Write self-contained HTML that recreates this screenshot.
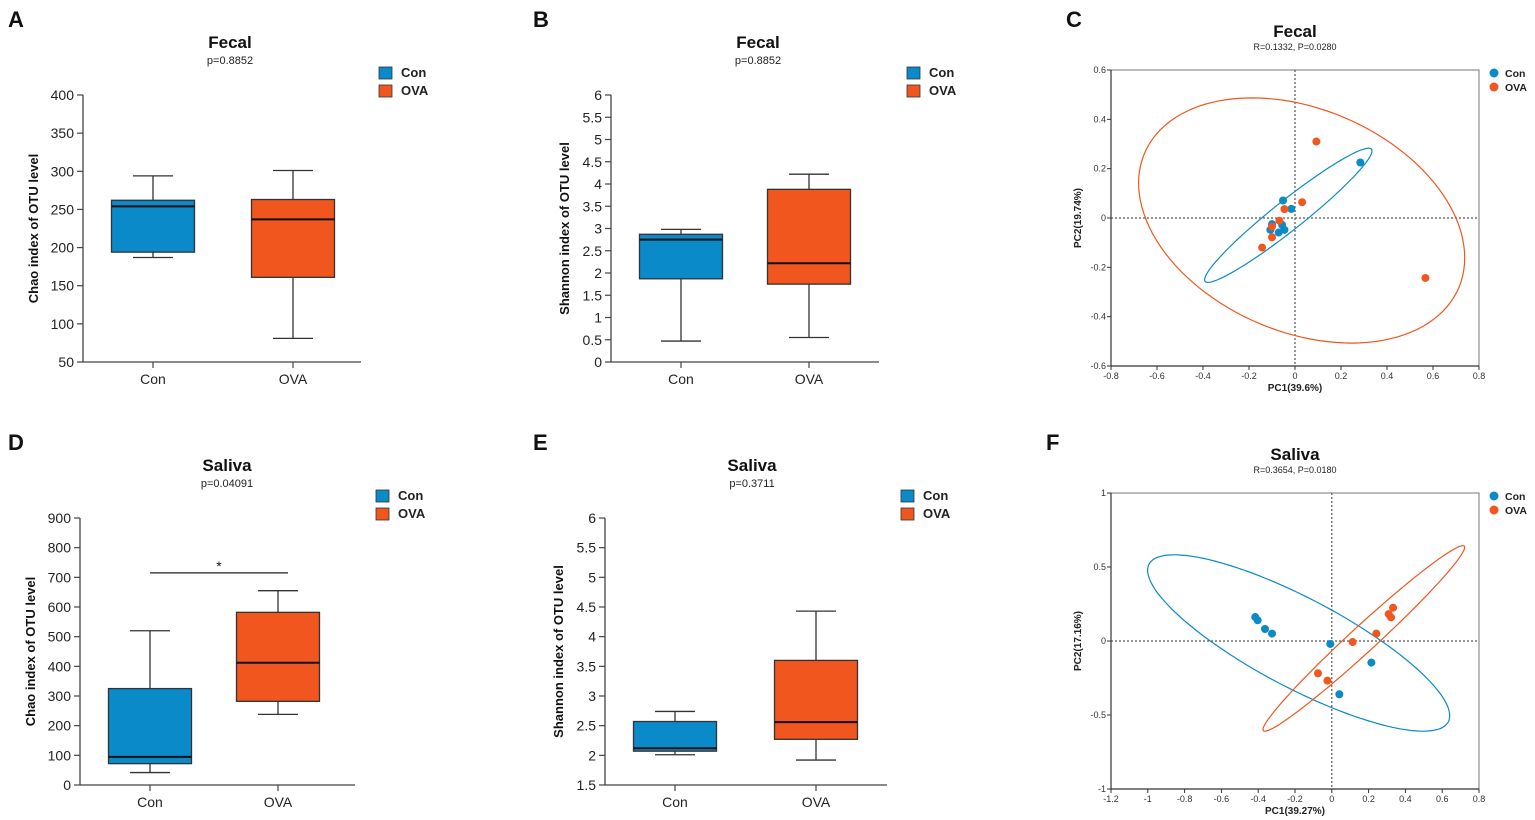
<!DOCTYPE html>
<html><head><meta charset="utf-8"><style>
html,body{margin:0;padding:0;background:#fff;}
svg{display:block;font-family:"Liberation Sans",Arial,sans-serif;}
</style></head><body>
<svg id="fig" width="1535" height="820" viewBox="0 0 1535 820" xmlns="http://www.w3.org/2000/svg"></svg>
<script>
// ---- Box plot data: [min, q1, median, q3, max] ----
const groups = ["Con", "OVA"];
const fecalChaoCon = [187, 194, 254, 262, 294];
const fecalChaoOVA = [81, 161, 237, 263, 301];
const fecalShannonCon = [0.47, 1.87, 2.75, 2.87, 2.98];
const fecalShannonOVA = [0.55, 1.75, 2.22, 3.88, 4.22];
const salivaChaoCon = [42, 72, 95, 325, 520];
const salivaChaoOVA = [238, 282, 412, 582, 655];
const salivaShannonCon = [2.01, 2.07, 2.12, 2.57, 2.74];
const salivaShannonOVA = [1.92, 2.27, 2.56, 3.6, 4.43];
const ticksA = [50,100,150,200,250,300,350,400];
const ticksB = [0,0.5,1,1.5,2,2.5,3,3.5,4,4.5,5,5.5,6];
const ticksD = [0,100,200,300,400,500,600,700,800,900];
const ticksE = [1.5,2,2.5,3,3.5,4,4.5,5,5.5,6];
// ---- PCoA data ----
const fecalConX = [0.284,-0.052,-0.016,-0.1,-0.107,-0.071,-0.046,-0.056];
const fecalConY = [0.225,0.071,0.037,-0.025,-0.048,-0.059,-0.048,-0.028];
const fecalOVAX = [0.093,0.031,-0.046,-0.068,-0.1,-0.1,-0.143,0.567];
const fecalOVAY = [0.31,0.064,0.036,-0.011,-0.035,-0.078,-0.12,-0.243];
const salivaConX = [-0.416,-0.403,-0.363,-0.325,-0.008,0.215,0.041];
const salivaConY = [0.162,0.14,0.081,0.05,-0.02,-0.146,-0.36];
const salivaOVAX = [0.333,0.309,0.322,0.242,0.113,-0.075,-0.024];
const salivaOVAY = [0.225,0.182,0.16,0.05,-0.007,-0.218,-0.268];
// ellipse params: [cx, cy, A, B, cosPhi]
const fecalConEllipse = [-0.029, 0.011, 0.364, 0.272, 0.96];
const fecalOVAEllipse = [0.029, -0.01, 0.709, 0.497, -0.305];
const salivaConEllipse = [-0.18, -0.0135, 0.821, 0.596, -0.824];
const salivaOVAEllipse = [0.174, 0.017, 0.548, 0.627, 0.982];
const fecalXTicks = [-0.8,-0.6,-0.4,-0.2,0,0.2,0.4,0.6,0.8];
const fecalYTicks = [-0.6,-0.4,-0.2,0,0.2,0.4,0.6];
const salivaXTicks = [-1.2,-1,-0.8,-0.6,-0.4,-0.2,0,0.2,0.4,0.6,0.8];
const salivaYTicks = [-1,-0.5,0,0.5,1];

const BLUE="#0a8ac8", ORANGE="#f0561d";
const svg=document.getElementById('fig');
const NS="http://www.w3.org/2000/svg";
function mk(tag, attrs, parent, text){
  const e=document.createElementNS(NS,tag);
  for(const k in attrs) e.setAttribute(k, attrs[k]);
  if(text!==undefined) e.textContent=text;
  (parent||svg).appendChild(e);
  return e;
}
function fmt(v){ return String(Math.round(v*100)/100); }

function letter(t,x,y){
  const e=mk('text',{x:x,y:y,'font-size':22,'font-weight':'bold',fill:'#111'},svg,t);
  
  
}

function boxPanel(id, ax, top, bottom, ticks, con, ova, title, p, ylabel, ylabX, sp, axLen, sig){
  const g=mk('g',{});
  
  
  const tmin=ticks[0], tmax=ticks[ticks.length-1];
  const Y=v=> bottom-(v-tmin)/(tmax-tmin)*(bottom-top);
  const X=i=> ax+70+i*sp;
  let e=mk('text',{x:ax+147,y:top-47,'font-size':17,'font-weight':'bold','text-anchor':'middle',fill:'#111'},g,title);
   
  e=mk('text',{x:ax+147,y:top-31,'font-size':11,'text-anchor':'middle',fill:'#222'},g,p);
   
  e=mk('line',{x1:ax,y1:top,x2:ax,y2:bottom,stroke:'#444','stroke-width':1.3},g);
   
  e=mk('line',{x1:ax,y1:bottom,x2:ax+axLen,y2:bottom,stroke:'#444','stroke-width':1.3},g);
   
  ticks.forEach(t=>{
    mk('line',{x1:ax-6,y1:Y(t),x2:ax,y2:Y(t),stroke:'#444','stroke-width':1.2},g);
    const tl=mk('text',{x:ax-9,y:Y(t)+5,'font-size':14,'text-anchor':'end',fill:'#222'},g,fmt(t));
     
  });
  groups.forEach((gname,i)=>{
    mk('line',{x1:X(i),y1:bottom,x2:X(i),y2:bottom+6,stroke:'#444','stroke-width':1.2},g);
    const tl=mk('text',{x:X(i),y:bottom+22,'font-size':14,'text-anchor':'middle',fill:'#222'},g,gname);
     
  });
  e=mk('text',{transform:`translate(${ylabX},${(top+bottom)/2}) rotate(-90)`,'font-size':13,'font-weight':'bold','text-anchor':'middle',fill:'#111'},g,ylabel);
   
  [con,ova].forEach((d,i)=>{
    const cx=X(i), hw=41.5, col=i?ORANGE:BLUE;
    const bg=mk('g',{},g);
    
    
    mk('line',{x1:cx,y1:Y(d[0]),x2:cx,y2:Y(d[1]),stroke:'#333','stroke-width':1.3},bg);
    mk('line',{x1:cx,y1:Y(d[3]),x2:cx,y2:Y(d[4]),stroke:'#333','stroke-width':1.3},bg);
    mk('line',{x1:cx-20,y1:Y(d[0]),x2:cx+20,y2:Y(d[0]),stroke:'#333','stroke-width':1.3},bg);
    mk('line',{x1:cx-20,y1:Y(d[4]),x2:cx+20,y2:Y(d[4]),stroke:'#333','stroke-width':1.3},bg);
    mk('rect',{x:cx-hw,y:Y(d[3]),width:hw*2,height:Y(d[1])-Y(d[3]),fill:col,stroke:'#333','stroke-width':1.3},bg);
    mk('line',{x1:cx-hw,y1:Y(d[2]),x2:cx+hw,y2:Y(d[2]),stroke:'#111','stroke-width':2},bg);
  });
  [BLUE,ORANGE].forEach((c,i)=>{
    const lg=mk('g',{},g);
    
    
    mk('rect',{x:ax+296,y:top-28+i*18,width:13,height:12,fill:c,stroke:'#333','stroke-width':0.8},lg);
    mk('text',{x:ax+318,y:top-18+i*18,'font-size':13,'font-weight':'bold',fill:'#222'},lg,groups[i]);
  });
  if(sig){
    const sl=mk('line',{x1:X(0),y1:Y(sig),x2:X(1)+10,y2:Y(sig),stroke:'#222','stroke-width':1.3},g);
     
    const st=mk('text',{x:(X(0)+X(1))/2+5,y:Y(sig)-2,'font-size':14,'text-anchor':'middle',fill:'#111'},g,'*');
     
  }
}

function pcaPanel(id, L, R, T, B, xt, yt, conX, conY, ovaX, ovaY, eCon, eOva, title, sub, xlab, ylab){
  const g=mk('g',{});
  
  
  const x0=xt[0], x1=xt[xt.length-1], y0=yt[0], y1=yt[yt.length-1];
  const X=v=>L+(v-x0)/(x1-x0)*(R-L);
  const Y=v=>B-(v-y0)/(y1-y0)*(B-T);
  let e=mk('text',{x:(L+R)/2,y:T-33,'font-size':17,'font-weight':'bold','text-anchor':'middle',fill:'#111'},g,title);
   
  e=mk('text',{x:(L+R)/2,y:T-20,'font-size':9,'text-anchor':'middle',fill:'#222'},g,sub);
   
  e=mk('rect',{x:L,y:T,width:R-L,height:B-T,fill:'none',stroke:'#777','stroke-width':1},g);
   
  mk('line',{x1:L,y1:T,x2:L,y2:B,stroke:'#333','stroke-width':1.2},g);
  mk('line',{x1:L,y1:B,x2:R,y2:B,stroke:'#333','stroke-width':1.2},g);
  xt.forEach(t=>{
    mk('line',{x1:X(t),y1:B,x2:X(t),y2:B+4,stroke:'#333'},g);
    const tl=mk('text',{x:X(t),y:B+13,'font-size':9,'text-anchor':'middle',fill:'#333'},g,fmt(t));
     
  });
  yt.forEach(t=>{
    mk('line',{x1:L-4,y1:Y(t),x2:L,y2:Y(t),stroke:'#333'},g);
    const tl=mk('text',{x:L-5,y:Y(t)+3,'font-size':9,'text-anchor':'end',fill:'#333'},g,fmt(t));
     
  });
  e=mk('line',{x1:X(0),y1:T,x2:X(0),y2:B,stroke:'#555','stroke-width':1.2,'stroke-dasharray':'2,2'},g);
   
  e=mk('line',{x1:L,y1:Y(0),x2:R,y2:Y(0),stroke:'#555','stroke-width':1.2,'stroke-dasharray':'2,2'},g);
   
  e=mk('text',{x:(L+R)/2,y:B+25,'font-size':10,'font-weight':'bold','text-anchor':'middle',fill:'#222'},g,xlab);
   
  e=mk('text',{transform:`translate(${L-30},${(T+B)/2}) rotate(-90)`,'font-size':10,'font-weight':'bold','text-anchor':'middle',fill:'#222'},g,ylab);
   
  [[eCon,BLUE,'con'],[eOva,ORANGE,'ova']].forEach(([p,c,n])=>{
    const phi=Math.acos(p[4]); let d='';
    for(let k=0;k<=120;k++){
      const t=k/120*2*Math.PI;
      const px=X(p[0]+p[2]*Math.cos(t)), py=Y(p[1]+p[3]*Math.cos(t+phi));
      d+=(k?'L':'M')+px.toFixed(1)+','+py.toFixed(1);
    }
    const el=mk('path',{d:d+'Z',fill:'none',stroke:c,'stroke-width':1.2},g);
    
    
  });
  [[conX,conY,BLUE,'con'],[ovaX,ovaY,ORANGE,'ova']].forEach(([xs,ys,c,n])=>{
    xs.forEach((v,i)=>{
      const pt=mk('circle',{cx:X(v),cy:Y(ys[i]),r:4,fill:c},g);
      
      
    });
  });
  [BLUE,ORANGE].forEach((c,i)=>{
    const lg=mk('g',{},g);
    
    
    mk('circle',{cx:R+15,cy:T+3+i*14,r:4.5,fill:c},lg);
    mk('text',{x:R+26,y:T+7+i*14,'font-size':10.5,'font-weight':'bold',fill:'#222'},lg,groups[i]);
  });
}

letter('A',8,27); letter('B',533,27); letter('C',1066,27);
letter('D',8,450); letter('E',533,450); letter('F',1046,450);

boxPanel('a',83,95,362,ticksA,fecalChaoCon,fecalChaoOVA,'Fecal','p=0.8852','Chao index of OTU level',38,140,278);
boxPanel('b',611,95,362,ticksB,fecalShannonCon,fecalShannonOVA,'Fecal','p=0.8852','Shannon index of OTU level',569,128,268);
boxPanel('d',80,518,785,ticksD,salivaChaoCon,salivaChaoOVA,'Saliva','p=0.04091','Chao index of OTU level',35,128,275,715);
boxPanel('e',605,518,785,ticksE,salivaShannonCon,salivaShannonOVA,'Saliva','p=0.3711','Shannon index of OTU level',563,141,282);

pcaPanel('c',1111,1479,70,366,fecalXTicks,fecalYTicks,fecalConX,fecalConY,fecalOVAX,fecalOVAY,fecalConEllipse,fecalOVAEllipse,'Fecal','R=0.1332, P=0.0280','PC1(39.6%)','PC2(19.74%)');
pcaPanel('f',1111,1479,493,789,salivaXTicks,salivaYTicks,salivaConX,salivaConY,salivaOVAX,salivaOVAY,salivaConEllipse,salivaOVAEllipse,'Saliva','R=0.3654, P=0.0180','PC1(39.27%)','PC2(17.16%)');
</script>
</body></html>
